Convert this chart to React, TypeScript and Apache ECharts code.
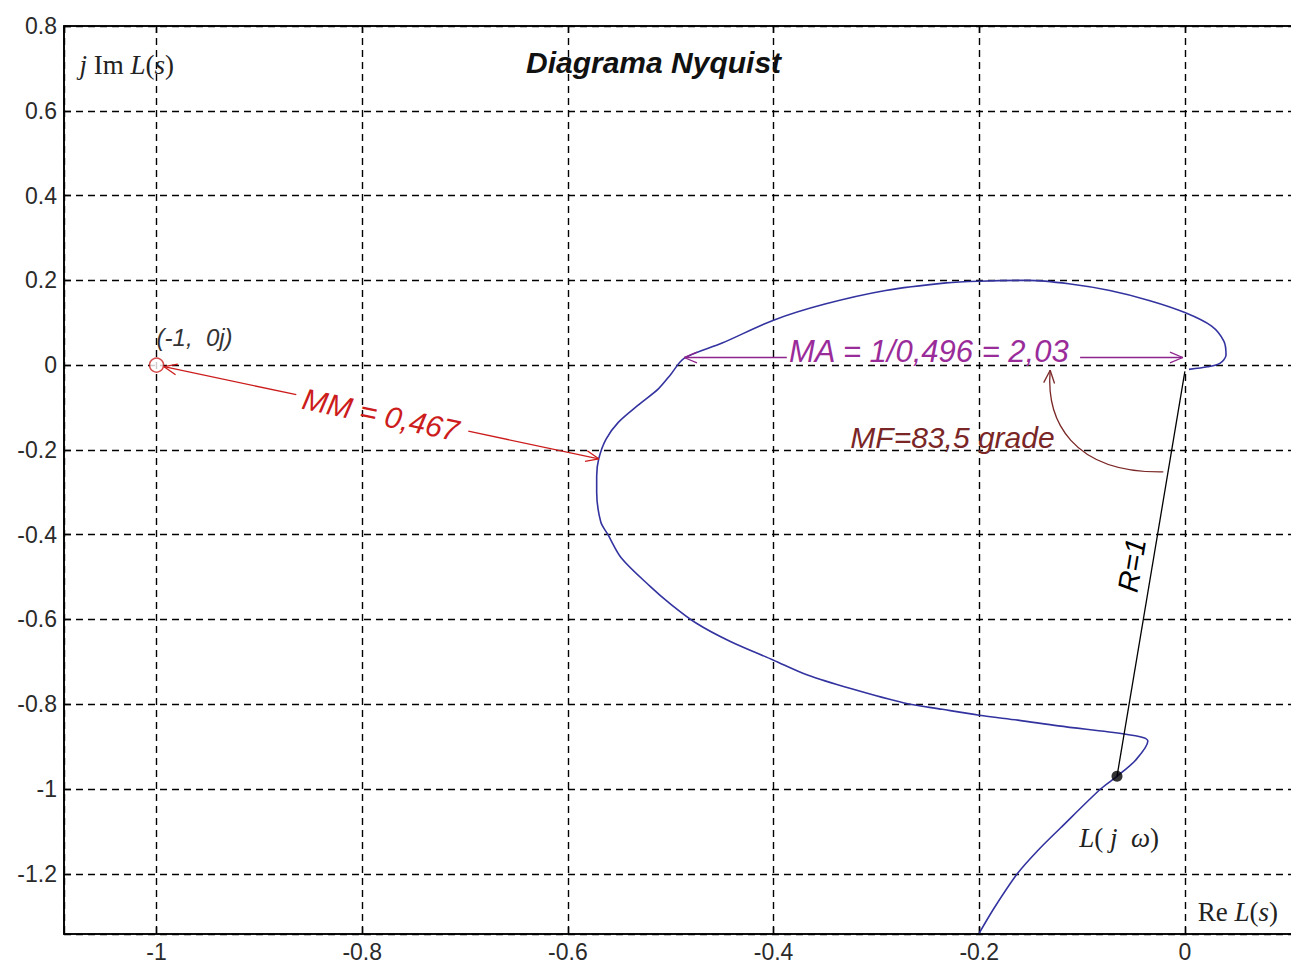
import React, { useEffect, useRef } from "react";
import * as echarts from "echarts";

// Axis ranges (Re on x, Im on y)
const X_RANGE = [-1.09, 0.11];
const Y_RANGE = [-1.342, 0.8];

// Nyquist curve L(jω), from the bottom edge to the origin
const curveRe = [
  -0.2, -0.185, -0.163, -0.143, -0.121, -0.082, -0.066, -0.048, -0.036, -0.04, -0.059,
  -0.123, -0.161, -0.2, -0.236, -0.273, -0.325, -0.367, -0.4, -0.442, -0.475, -0.501,
  -0.52, -0.548, -0.561, -0.568, -0.572, -0.572, -0.57, -0.563, -0.551, -0.532, -0.512,
  -0.5, -0.487, -0.45, -0.4, -0.35, -0.291, -0.232, -0.2, -0.152, -0.113, -0.073, -0.034,
  0.0, 0.026, 0.038, 0.04, 0.034, 0.022, 0.004,
];
const curveIm = [
  -1.34, -1.279, -1.2, -1.145, -1.092, -1.0, -0.97, -0.932, -0.887, -0.879, -0.87,
  -0.851, -0.838, -0.826, -0.812, -0.797, -0.763, -0.731, -0.696, -0.652, -0.609, -0.562,
  -0.522, -0.455, -0.4, -0.37, -0.3, -0.262, -0.221, -0.175, -0.135, -0.095, -0.056,
  -0.022, 0.016, 0.052, 0.106, 0.144, 0.176, 0.194, 0.198, 0.2, 0.192, 0.176, 0.152,
  0.124, 0.092, 0.056, 0.024, 0.004, -0.004, -0.01,
];

// Radius R = 1 from the origin to the crossing point
const radiusRe = [0.0, -0.066];
const radiusIm = [-0.015, -0.97];

// Critical point (-1, 0j)
const criticalPoint = [-1, 0];

// Margin annotations
const mmArrow = [
  [-1, 0],
  [-0.57, -0.221],
];
const maArrow = [
  [-0.487, 0.018],
  [-0.002, 0.018],
];
// MF arc: start, control 1, control 2, end (cubic Bézier)
const mfArcRe = [-0.021, -0.11, -0.135, -0.131];
const mfArcIm = [-0.252, -0.255, -0.13, -0.012];

const curveData = curveRe.map((x, i) => [x, curveIm[i]]);
const radiusData = radiusRe.map((x, i) => [x, radiusIm[i]]);

const RED = "#cc1c1c";
const PURPLE = "#8e258e";
const BROWN = "#7a2626";
const SERIF = '"Liberation Serif", "Times New Roman", serif';

function renderAnnotations(_params: any, api: any) {
  const P = (p: number[]) => api.coord(p);
  const kids: any[] = [];
  const seg = (a: number[], b: number[], color: string, w = 1.3) =>
    kids.push({
      type: "line",
      shape: { x1: a[0], y1: a[1], x2: b[0], y2: b[1] },
      style: { stroke: color, lineWidth: w },
    });
  const head = (tip: number[], from: number[], color: string, len = 14, ang = 0.4) => {
    const dx = tip[0] - from[0];
    const dy = tip[1] - from[1];
    const L = Math.hypot(dx, dy) || 1;
    const ux = dx / L;
    const uy = dy / L;
    for (const s of [1, -1]) {
      const c = Math.cos(s * ang);
      const sn = Math.sin(s * ang);
      const rx = ux * c - uy * sn;
      const ry = ux * sn + uy * c;
      seg(tip, [tip[0] - rx * len, tip[1] - ry * len], color);
    }
  };
  const text = (
    str: string,
    p: number[],
    color: string,
    font: string,
    rot = 0,
    align = "center",
    rich?: any
  ) =>
    kids.push({
      type: "text",
      x: p[0],
      y: p[1],
      rotation: rot,
      style: { text: str, fill: color, font, align, verticalAlign: "middle", rich },
    });

  // MM arrow (with gap for the label)
  {
    const a = P(mmArrow[0]);
    const b = P(mmArrow[1]);
    const lerp = (t: number) => [a[0] + (b[0] - a[0]) * t, a[1] + (b[1] - a[1]) * t];
    const s0 = lerp(0.017);
    seg(s0, lerp(0.316), RED);
    seg(lerp(0.705), b, RED);
    head(s0, lerp(0.2), RED);
    head(b, lerp(0.8), RED);
    const rot = -Math.atan2(b[1] - a[1], b[0] - a[0]);
    text("MM = 0,467", P([-0.782, -0.117]), RED, "italic 30px Arial", rot);
  }

  // MA arrow
  {
    const a = P(maArrow[0]);
    const b = P(maArrow[1]);
    const lerp = (t: number) => [a[0] + (b[0] - a[0]) * t, a[1] + (b[1] - a[1]) * t];
    seg(a, lerp(0.206), PURPLE);
    seg(lerp(0.794), b, PURPLE);
    head(a, lerp(0.2), PURPLE);
    head(b, lerp(0.8), PURPLE);
    text("MA = 1/0,496 = 2,03", P([-0.249, 0.032]), "#9a2c9a", "italic 31px Arial");
  }

  // MF arc
  {
    const pts = mfArcRe.map((x, i) => P([x, mfArcIm[i]]));
    kids.push({
      type: "bezierCurve",
      shape: {
        x1: pts[0][0],
        y1: pts[0][1],
        cpx1: pts[1][0],
        cpy1: pts[1][1],
        cpx2: pts[2][0],
        cpy2: pts[2][1],
        x2: pts[3][0],
        y2: pts[3][1],
      },
      style: { stroke: BROWN, lineWidth: 1.3, fill: null },
    });
    head(pts[3], pts[2], BROWN);
    text("MF=83,5 grade", P([-0.226, -0.17]), BROWN, "italic 30px Arial");
  }

  // R = 1 label along the radius
  {
    const bot = P([radiusRe[1], radiusIm[1]]);
    const top = P([radiusRe[0], radiusIm[0]]);
    const rot = Math.atan2(-(top[1] - bot[1]), top[0] - bot[0]);
    text("R=1", P([-0.0516, -0.472]), "#000", "italic 29px Arial", rot);
  }

  // Critical point label
  text("(-1,  0j)", P([-1.0, 0.064]), "#333", "italic 24px Arial", 0, "left");

  const rich = {
    i: { fontStyle: "italic", fontSize: 27, fontFamily: SERIF, fill: "#222" },
    n: { fontStyle: "normal", fontSize: 27, fontFamily: SERIF, fill: "#222" },
  };
  text("{i|L}{n|(} {i|j  ω}{n|)}", P([-0.064, -1.116]), "#222", `27px ${SERIF}`, 0, "center", rich);
  text("{n|Re} {i|L}{n|(}{i|s}{n|)}", P([0.0126, -1.29]), "#222", `27px ${SERIF}`, 0, "left", rich);
  text("{i|j} {n|Im} {i|L}{n|(}{i|s}{n|)}", P([-1.075, 0.708]), "#222", `27px ${SERIF}`, 0, "left", rich);

  return { type: "group", children: kids };
}

const axisLabelStyle = {
  color: "#2a2a2a",
  fontSize: 23,
  fontFamily: "Arial",
};

const gridLine = { color: "#000", type: [7, 5], width: 1.4 };
const frameLine = { color: "#000", width: 1.6 };

const option: any = {
  animation: false,
  backgroundColor: "#fff",
  title: {
    text: "Diagrama Nyquist",
    left: 521,
    top: 42,
    textStyle: {
      fontSize: 30,
      fontWeight: "bold",
      fontStyle: "italic",
      fontFamily: "Arial",
      color: "#111",
    },
  },
  grid: {
    left: 64,
    top: 26,
    width: 1234,
    height: 908,
    show: true,
    borderColor: "#000",
    borderWidth: 1.6,
  },
  xAxis: [
    {
      type: "value",
      min: X_RANGE[0],
      max: X_RANGE[1],
      splitNumber: 6,
      axisLine: { show: true, onZero: false, lineStyle: frameLine },
      axisTick: { show: true, inside: true, length: 7, lineStyle: { color: "#000", width: 1.4 } },
      axisLabel: { ...axisLabelStyle, margin: 6, showMinLabel: false, showMaxLabel: false },
      splitLine: { show: true, lineStyle: gridLine },
    },
    {
      type: "value",
      position: "top",
      min: X_RANGE[0],
      max: X_RANGE[1],
      splitNumber: 6,
      axisLine: { show: true, onZero: false, lineStyle: frameLine },
      axisTick: { show: true, inside: true, length: 7, lineStyle: { color: "#000", width: 1.4 } },
      axisLabel: { show: false },
      splitLine: { show: false },
    },
  ],
  yAxis: {
    type: "value",
    min: Y_RANGE[0],
    max: Y_RANGE[1],
    splitNumber: 10,
    axisLine: { show: true, onZero: false, lineStyle: frameLine },
    axisTick: { show: true, inside: true, length: 7, lineStyle: { color: "#000", width: 1.4 } },
    axisLabel: { ...axisLabelStyle, margin: 7, showMinLabel: false, showMaxLabel: true },
    splitLine: { show: true, lineStyle: gridLine },
  },
  series: [
    {
      name: "L(jω)",
      type: "line",
      data: curveData,
      showSymbol: false,
      smooth: 0.3,
      lineStyle: { color: "#3333a0", width: 1.6 },
      z: 3,
    },
    {
      name: "R",
      type: "line",
      data: radiusData,
      showSymbol: false,
      lineStyle: { color: "#000", width: 1.3 },
      z: 4,
    },
    {
      name: "crossing",
      type: "scatter",
      data: [radiusData[1]],
      symbol: "circle",
      symbolSize: 11,
      itemStyle: { color: "#000" },
      z: 6,
    },
    {
      name: "critical",
      type: "scatter",
      data: [criticalPoint],
      symbol: "circle",
      symbolSize: 14,
      itemStyle: { color: "#fff", borderColor: RED, borderWidth: 1.5 },
      z: 6,
    },
    {
      name: "annotations",
      type: "custom",
      data: [[0, 0]],
      renderItem: renderAnnotations,
      silent: true,
      z: 5,
    },
  ],
};

export default function App() {
  const ref = useRef<HTMLDivElement>(null);
  useEffect(() => {
    const chart = echarts.init(ref.current!, null, { renderer: "svg" });
    chart.setOption(option);
    return () => chart.dispose();
  }, []);
  return (
    <div
      style={{
        position: "fixed",
        left: 0,
        top: 0,
        width: 1291,
        height: 964,
        overflow: "hidden",
        background: "#fff",
      }}
    >
      <div ref={ref} style={{ width: 1300, height: 964 }} />
    </div>
  );
}
